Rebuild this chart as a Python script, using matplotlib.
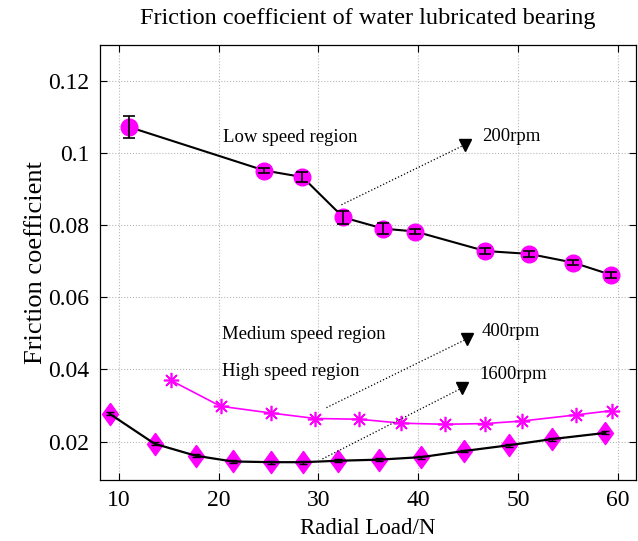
import matplotlib
matplotlib.use("Agg")
import matplotlib.pyplot as plt

plt.rcParams['font.family'] = ['Liberation Serif', 'DejaVu Serif']

# Low speed region (200 rpm)
low_x = [11.0, 24.6, 28.4, 32.5, 36.5, 39.7, 46.7, 51.1, 55.5, 59.3]
low_y = [0.1072, 0.0951, 0.0933, 0.0821, 0.0790, 0.0782, 0.0728, 0.0720, 0.0696, 0.0662]
low_err = [0.0030, 0.0008, 0.0015, 0.0017, 0.0015, 0.0007, 0.0008, 0.0008, 0.0008, 0.0008]

# Medium speed region (400 rpm)
med_x = [15.2, 20.2, 25.3, 29.7, 34.1, 38.3, 42.7, 46.7, 50.4, 55.8, 59.4]
med_y = [0.0370, 0.0298, 0.0279, 0.0264, 0.0262, 0.0251, 0.0248, 0.0250, 0.0257, 0.0274, 0.0286]

# High speed region (1600 rpm)
high_x = [9.1, 13.6, 17.7, 21.4, 25.3, 28.5, 32.0, 36.1, 40.3, 44.6, 49.1, 53.4, 58.7]
high_y = [0.0277, 0.0194, 0.0161, 0.0145, 0.0143, 0.0143, 0.0147, 0.0150, 0.0157, 0.0174, 0.0190, 0.0207, 0.0224]
high_err = [0.0004] * 13

x_ticks = [10, 20, 30, 40, 50, 60]
y_ticks = [0.02, 0.04, 0.06, 0.08, 0.1, 0.12]
y_ticklabels = ['0.02', '0.04', '0.06', '0.08', '0.1', '0.12']

MAG = '#ff00ff'
DIAMOND = [(0, 1), (0.72, 0), (0, -1), (-0.72, 0), (0, 1)]

fig = plt.figure(figsize=(6.38, 5.41), dpi=100)
ax = fig.add_axes([0.157, 0.113, 0.84, 0.804])

# low speed
ax.plot(low_x, low_y, color='black', lw=1.5, zorder=3)
ax.plot(low_x, low_y, 'o', color=MAG, ms=12, mec=MAG, zorder=4)
ax.errorbar(low_x, low_y, yerr=low_err, fmt='none', ecolor='black', elinewidth=1.2,
            capsize=4, capthick=1.2, zorder=5)

# medium speed
ax.plot(med_x, med_y, color=MAG, lw=1.2, marker=(8, 2, 0), ms=11, mew=1.2,
        mec=MAG, zorder=3)

# high speed
ax.plot(high_x, high_y, marker=DIAMOND, ls='none', color=MAG, ms=16, mec=MAG, zorder=3)
ax.plot(high_x, high_y, color='black', lw=1.6, zorder=4)
ax.errorbar(high_x, high_y, yerr=high_err, fmt='none', ecolor='black', elinewidth=1.0,
            capsize=3, capthick=1.0, zorder=5)

# annotations
arrows = [((32.3, 0.0856), (44.7, 0.1023)),
          ((30.8, 0.0294), (44.9, 0.0485)),
          ((30.4, 0.0152), (44.4, 0.0349))]
for (x0, y0), (x1, y1) in arrows:
    ax.plot([x0, x1], [y0, y1], ls=':', color='black', lw=0.9, zorder=6)
    ax.plot([x1], [y1], marker='v', color='black', ms=9, zorder=6)

tfs = 13.5
ax.text(20.4, 0.1043, 'Low speed region', fontsize=tfs, va='center', ha='left')
ax.text(46.4, 0.1045, '200rpm', fontsize=tfs, va='center', ha='left')
ax.text(20.3, 0.0497, 'Medium speed region', fontsize=tfs, va='center', ha='left')
ax.text(46.3, 0.0505, '400rpm', fontsize=tfs, va='center', ha='left')
ax.text(20.3, 0.0395, 'High speed region', fontsize=tfs, va='center', ha='left')
ax.text(46.1, 0.0385, '1600rpm', fontsize=tfs, va='center', ha='left')

ax.set_xlim(8.15, 61.8)
ax.set_ylim(0.0094, 0.1299)
ax.set_xticks(x_ticks)
ax.set_yticks(y_ticks)
ax.set_yticklabels(y_ticklabels)
ax.tick_params(direction='in', top=True, right=True, labelsize=17, length=5, width=0.8)
ax.tick_params(axis='x', pad=7)
ax.tick_params(axis='y', pad=8)
ax.grid(True, ls=':', color='#b8b8b8', lw=0.8)
for s in ax.spines.values():
    s.set_linewidth(0.9)

ax.set_xlabel('Radial Load/N', fontsize=16.5, labelpad=5)
ax.set_ylabel('Friction coefficient', fontsize=19, labelpad=1)
ax.set_title('Friction coefficient of water lubricated bearing', fontsize=17.5, pad=15)

fig.savefig('out.png', dpi=100)
